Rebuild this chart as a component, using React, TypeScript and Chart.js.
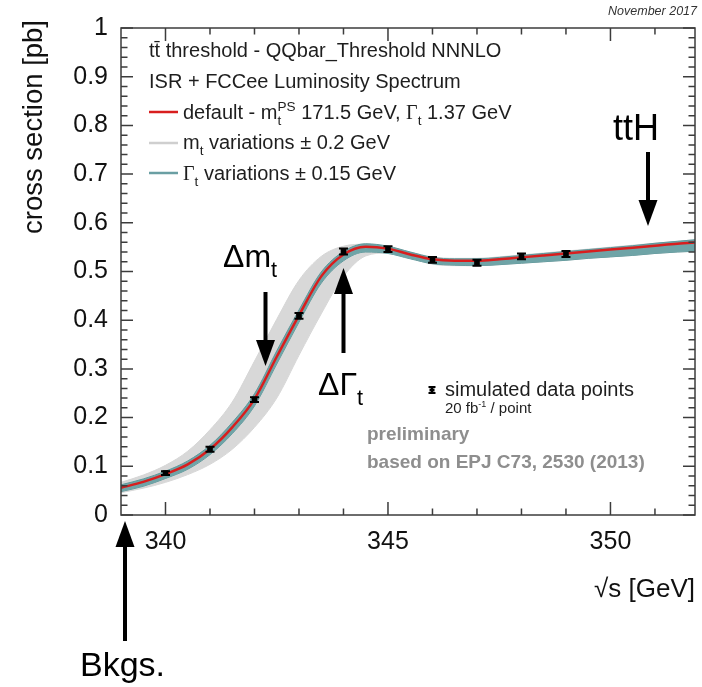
import React, { useEffect, useRef } from "react";
import { Chart, registerables } from "chart.js";

Chart.register(...registerables);

// Centre-of-mass energy grid (GeV) on which the theory curves are tabulated
const energyGrid = [
  339.0, 339.5, 340.0, 340.5, 341.0, 341.5, 342.0, 342.5, 343.0, 343.5, 344.0, 344.5, 345.0,
  345.5, 346.0, 346.5, 347.0, 347.5, 348.0, 348.5, 349.0, 349.5, 350.0, 350.5, 351.0, 351.5, 352.0,
];

// Default prediction: m_t^PS = 171.5 GeV, Gamma_t = 1.37 GeV (pb)
const defaultCurve = [
  0.056, 0.068, 0.084, 0.104, 0.135, 0.18, 0.238, 0.325, 0.41, 0.49, 0.535, 0.551, 0.547,
  0.535, 0.525, 0.522, 0.522, 0.525, 0.529, 0.533, 0.537, 0.541, 0.545, 0.549, 0.553, 0.557, 0.56,
];

// Envelope of the top-mass variations (+/- 0.2 GeV)
const massBandUpper = [
  0.067, 0.082, 0.102, 0.131, 0.175, 0.232, 0.316, 0.402, 0.482, 0.531, 0.552, 0.556, 0.551,
  0.54, 0.53, 0.527, 0.527, 0.53, 0.534, 0.538, 0.542, 0.546, 0.55, 0.554, 0.558, 0.562, 0.566,
];
const massBandLower = [
  0.046, 0.055, 0.067, 0.083, 0.104, 0.135, 0.18, 0.24, 0.328, 0.413, 0.49, 0.532, 0.538,
  0.527, 0.515, 0.512, 0.512, 0.514, 0.517, 0.52, 0.523, 0.527, 0.53, 0.533, 0.537, 0.54, 0.542,
];

// Envelope of the top-width variations (+/- 0.15 GeV)
const widthBandUpper = [
  0.062, 0.074, 0.09, 0.111, 0.143, 0.19, 0.249, 0.337, 0.421, 0.499, 0.541, 0.557, 0.552,
  0.54, 0.529, 0.526, 0.526, 0.529, 0.533, 0.537, 0.541, 0.545, 0.549, 0.553, 0.558, 0.562, 0.566,
];
const widthBandLower = [
  0.048, 0.059, 0.075, 0.094, 0.124, 0.167, 0.224, 0.31, 0.396, 0.476, 0.522, 0.54, 0.537,
  0.526, 0.516, 0.513, 0.512, 0.514, 0.517, 0.52, 0.523, 0.527, 0.53, 0.533, 0.537, 0.54, 0.542,
];

// Simulated scan points, 20 fb^-1 each
const scanEnergies = [340, 341, 342, 343, 344, 345, 346, 347, 348, 349];
const scanValues = [0.086, 0.135, 0.237, 0.409, 0.541, 0.546, 0.524, 0.518, 0.531, 0.536];
const scanErrors = [0.004, 0.005, 0.005, 0.006, 0.006, 0.006, 0.006, 0.006, 0.006, 0.006];

// Axis ticks
const xTickValues = [340, 345, 350];
const xMinorTickValues = [340, 341, 342, 343, 344, 345, 346, 347, 348, 349, 350, 351];
const yTickValues = [0, 0.1, 0.2, 0.3, 0.4, 0.5, 0.6, 0.7, 0.8, 0.9, 1];

const FONT = '"Liberation Sans", Arial, Helvetica, sans-serif';
const SERIF = '"Liberation Serif", "Times New Roman", serif';

type Seg = { t: string; k?: "sub" | "sup"; serif?: boolean; stay?: boolean };

function drawRich(
  ctx: CanvasRenderingContext2D,
  x: number,
  y: number,
  segs: Seg[],
  size: number,
  color: string,
  weight = "normal",
  subScale = 0.68
) {
  ctx.fillStyle = color;
  ctx.textBaseline = "alphabetic";
  ctx.textAlign = "left";
  let cx = x;
  for (const s of segs) {
    const fs = s.k ? size * subScale : size;
    ctx.font = `${weight} ${fs}px ${s.serif ? SERIF : FONT}`;
    const dy = s.k === "sub" ? size * 0.3 : s.k === "sup" ? -size * 0.42 : 0;
    ctx.fillText(s.t, cx, y + dy);
    if (!s.stay) cx += ctx.measureText(s.t).width;
  }
}

function arrow(ctx: CanvasRenderingContext2D, x: number, tail: number, tip: number) {
  const dir = tip > tail ? 1 : -1;
  const headLen = 26;
  const headHalf = 9.5;
  const base = tip - dir * headLen;
  ctx.save();
  ctx.strokeStyle = "#000";
  ctx.fillStyle = "#000";
  ctx.lineWidth = 4;
  ctx.beginPath();
  ctx.moveTo(x, tail);
  ctx.lineTo(x, base + dir * 1);
  ctx.stroke();
  ctx.beginPath();
  ctx.moveTo(x, tip);
  ctx.lineTo(x - headHalf, base);
  ctx.lineTo(x + headHalf, base);
  ctx.closePath();
  ctx.fill();
  ctx.restore();
}

const errorBarPlugin = {
  id: "scanErrorBars",
  afterDatasetsDraw(chart: any) {
    const { ctx, scales } = chart;
    ctx.save();
    ctx.strokeStyle = "#000";
    ctx.lineWidth = 2;
    scanEnergies.forEach((e, i) => {
      const px = scales.x.getPixelForValue(e);
      const yHi = scales.y.getPixelForValue(scanValues[i] + scanErrors[i]);
      const yLo = scales.y.getPixelForValue(scanValues[i] - scanErrors[i]);
      ctx.beginPath();
      ctx.moveTo(px, yHi);
      ctx.lineTo(px, yLo);
      ctx.moveTo(px - 4.5, yHi);
      ctx.lineTo(px + 4.5, yHi);
      ctx.moveTo(px - 4.5, yLo);
      ctx.lineTo(px + 4.5, yLo);
      ctx.stroke();
    });
    ctx.restore();
  },
};

const framePlugin = {
  id: "frameTicks",
  afterDatasetsDraw(chart: any) {
    const { ctx, chartArea: a, scales } = chart;
    const xs = scales.x;
    const ys = scales.y;
    ctx.save();
    ctx.strokeStyle = "#3c3c3c";
    ctx.lineWidth = 1.5;
    ctx.beginPath();
    for (const v of xMinorTickValues) {
      const px = xs.getPixelForValue(v);
      const len = xTickValues.includes(v) ? 13 : 6.5;
      ctx.moveTo(px, a.bottom);
      ctx.lineTo(px, a.bottom - len);
      ctx.moveTo(px, a.top);
      ctx.lineTo(px, a.top + len);
    }
    for (let i = 0; i <= 50; i++) {
      const v = i * 0.02;
      const py = ys.getPixelForValue(v);
      const len = i % 5 === 0 ? 12 : 6.5;
      ctx.moveTo(a.left, py);
      ctx.lineTo(a.left + len, py);
      ctx.moveTo(a.right, py);
      ctx.lineTo(a.right - len, py);
    }
    ctx.stroke();
    ctx.strokeRect(a.left, a.top, a.right - a.left, a.bottom - a.top);
    ctx.restore();
  },
};

const textPlugin = {
  id: "plotTexts",
  afterDraw(chart: any) {
    const ctx: CanvasRenderingContext2D = chart.ctx;
    ctx.save();

    // date stamp
    ctx.font = `italic 12.5px ${FONT}`;
    ctx.fillStyle = "#333";
    ctx.textAlign = "right";
    ctx.textBaseline = "alphabetic";
    ctx.fillText("November 2017", 697, 15);

    // axis titles
    ctx.font = `26px ${FONT}`;
    ctx.fillStyle = "#111";
    ctx.textAlign = "right";
    ctx.fillText("\u221As [GeV]", 695, 597);
    ctx.save();
    ctx.font = `27.5px ${FONT}`;
    ctx.translate(42, 20);
    ctx.rotate(-Math.PI / 2);
    ctx.textAlign = "right";
    ctx.fillText("cross section [pb]", 0, 0);
    ctx.restore();

    // legend block
    const dark = "#1e1e1e";
    drawRich(ctx, 149, 57, [{ t: "tt\u0304 threshold - QQbar_Threshold NNNLO" }], 20, dark);
    drawRich(ctx, 149, 88, [{ t: "ISR + FCCee Luminosity Spectrum" }], 20, dark);
    const swatches: [number, string][] = [
      [112, "#d81e1e"],
      [143, "#cfcfcf"],
      [173, "#6a9fa3"],
    ];
    swatches.forEach(([y, c]) => {
      ctx.strokeStyle = c;
      ctx.lineWidth = 2.5;
      ctx.beginPath();
      ctx.moveTo(149, y);
      ctx.lineTo(178, y);
      ctx.stroke();
    });
    drawRich(
      ctx,
      183,
      119,
      [
        { t: "default - m" },
        { t: "t", k: "sub", stay: true },
        { t: "PS", k: "sup" },
        { t: " 171.5 GeV, " },
        { t: "\u0393", serif: true },
        { t: "t", k: "sub" },
        { t: " 1.37 GeV" },
      ],
      20,
      dark
    );
    drawRich(ctx, 183, 149, [{ t: "m" }, { t: "t", k: "sub" }, { t: " variations \u00B1 0.2 GeV" }], 20, dark);
    drawRich(
      ctx,
      183,
      180,
      [{ t: "\u0393", serif: true }, { t: "t", k: "sub" }, { t: " variations \u00B1 0.15 GeV" }],
      20,
      dark
    );

    // scan-point key
    ctx.strokeStyle = "#000";
    ctx.lineWidth = 2;
    ctx.beginPath();
    ctx.moveTo(432, 387);
    ctx.lineTo(432, 393);
    ctx.moveTo(428.5, 387);
    ctx.lineTo(435.5, 387);
    ctx.moveTo(428.5, 393);
    ctx.lineTo(435.5, 393);
    ctx.stroke();
    ctx.fillStyle = "#000";
    ctx.fillRect(429.5, 388.5, 5, 3);
    drawRich(ctx, 445, 396, [{ t: "simulated data points" }], 20, dark);
    drawRich(ctx, 445, 413, [{ t: "20 fb" }, { t: "-1", k: "sup" }, { t: " / point" }], 15, dark, "normal", 0.6);

    const grey = "#8e8e8e";
    drawRich(ctx, 367, 440, [{ t: "preliminary" }], 19, grey, "bold");
    drawRich(ctx, 367, 468, [{ t: "based on EPJ C73, 2530 (2013)" }], 19, grey, "bold");

    // physics annotations with arrows
    drawRich(ctx, 613, 140, [{ t: "ttH" }], 36, "#000");
    arrow(ctx, 648, 152, 226);

    drawRich(ctx, 223, 267, [{ t: "\u0394m" }, { t: "t", k: "sub" }], 32, "#000");
    arrow(ctx, 265.5, 292, 366);

    drawRich(ctx, 318, 395, [{ t: "\u0394\u0393" }, { t: "t", k: "sub" }], 32, "#000");
    arrow(ctx, 343.5, 353, 268);

    drawRich(ctx, 80, 676, [{ t: "Bkgs." }], 34, "#000");
    arrow(ctx, 125, 641, 521);

    ctx.restore();
  },
};

const toPoints = (ys: number[]) => energyGrid.map((x, i) => ({ x, y: ys[i] }));

export default function App() {
  const canvasRef = useRef<HTMLCanvasElement | null>(null);

  useEffect(() => {
    const canvas = canvasRef.current;
    if (!canvas) return;
    const curveStyle = {
      pointRadius: 0,
      tension: 0.4,
      cubicInterpolationMode: "monotone" as const,
    };
    const chart = new Chart(canvas, {
      type: "line",
      data: {
        datasets: [
          {
            label: "simulated data points",
            data: scanEnergies.map((x, i) => ({ x, y: scanValues[i] })),
            showLine: false,
            pointStyle: "rect",
            pointRadius: 4,
            pointBackgroundColor: "#000",
            pointBorderColor: "#000",
            pointBorderWidth: 0,
          },
          {
            label: "default",
            data: toPoints(defaultCurve),
            borderColor: "#d81e1e",
            borderWidth: 2.5,
            fill: false,
            ...curveStyle,
          },
          {
            label: "width up",
            data: toPoints(widthBandUpper),
            borderColor: "#5f979a",
            borderWidth: 1,
            backgroundColor: "#6fa4a7",
            fill: "+1",
            ...curveStyle,
          },
          {
            label: "width down",
            data: toPoints(widthBandLower),
            borderColor: "#5f979a",
            borderWidth: 1,
            fill: false,
            ...curveStyle,
          },
          {
            label: "mass up",
            data: toPoints(massBandUpper),
            borderColor: "#d6d6d6",
            borderWidth: 1,
            backgroundColor: "#d8d8d8",
            fill: "+1",
            ...curveStyle,
          },
          {
            label: "mass down",
            data: toPoints(massBandLower),
            borderColor: "#d6d6d6",
            borderWidth: 1,
            fill: false,
            ...curveStyle,
          },
        ],
      },
      options: {
        animation: false,
        responsive: false,
        maintainAspectRatio: false,
        events: [],
        layout: { padding: { left: 0, top: 18, right: 7, bottom: 112 } },
        plugins: {
          legend: { display: false },
          tooltip: { enabled: false },
        },
        scales: {
          x: {
            type: "linear",
            min: 339,
            max: 351.9,
            grid: { display: false, drawTicks: false },
            border: { display: false },
            ticks: {
              font: { size: 25, family: FONT },
              color: "#111",
              padding: 12,
              maxRotation: 0,
              autoSkip: false,
            },
            afterBuildTicks: (s: any) => {
              s.ticks = xTickValues.map((value) => ({ value }));
            },
            afterFit: (s: any) => {
              s.height = 60;
            },
          },
          y: {
            type: "linear",
            min: 0,
            max: 1,
            grid: { display: false, drawTicks: false },
            border: { display: false },
            ticks: {
              font: { size: 25, family: FONT },
              color: "#111",
              padding: 13,
              autoSkip: false,
              callback: (v: any) => {
                const n = Number(v);
                if (n === 0) return "0";
                if (n === 1) return "1";
                return n.toFixed(1);
              },
            },
            afterBuildTicks: (s: any) => {
              s.ticks = yTickValues.map((value) => ({ value }));
            },
            afterFit: (s: any) => {
              s.width = 121;
            },
          },
        },
      },
      plugins: [errorBarPlugin, framePlugin, textPlugin],
    });
    return () => chart.destroy();
  }, []);

  return (
    <div style={{ position: "fixed", left: 0, top: 0, width: 702, height: 687, background: "#fff" }}>
      <canvas ref={canvasRef} width={702} height={687} style={{ display: "block", width: 702, height: 687 }} />
    </div>
  );
}
